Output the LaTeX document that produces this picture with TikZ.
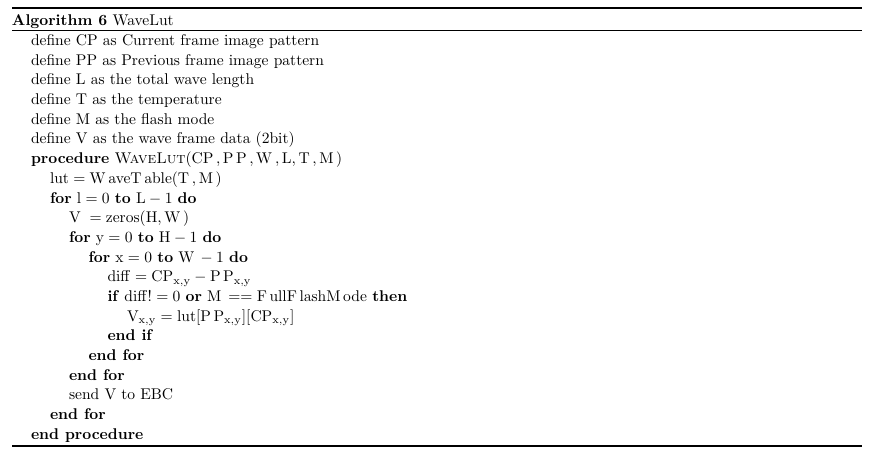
\documentclass[tikz,border=0pt]{standalone}
\begin{document}
\begin{tikzpicture}[x=0.643pt,y=-0.643pt,
  ln/.style={anchor=base west, inner sep=0pt, outer sep=0pt, font=\fontsize{10}{12}\selectfont},
  thickrule/.style={line width=1.2pt},
  thinrule/.style={line width=0.8pt}]
\useasboundingbox[fill=white] (0,0) rectangle (887,460);
\coordinate (tl) at (12,8);
\coordinate (tr) at (862,8);
\coordinate (ml) at (12,30.3);
\coordinate (mr) at (862,30.3);
\coordinate (bl) at (12,445.6);
\coordinate (br) at (862,445.6);
\draw[thickrule] (tl) -- (tr);
\draw[thinrule] (ml) -- (mr);
\draw[thickrule] (bl) -- (br);
\node[ln] (title) at (12,25) {\textbf{Algorithm 6} WaveLut};
\node[ln] (d1) at (31,45.5) {define CP as Current frame image pattern};
\node[ln] (d2) at (31,65.2) {define PP as Previous frame image pattern};
\node[ln] (d3) at (31,84.9) {define L as the total wave length};
\node[ln] (d4) at (31,104.6) {define T as the temperature};
\node[ln] (d5) at (31,124.3) {define M as the flash mode};
\node[ln] (d6) at (31,143.9) {define V as the wave frame data (2bit)};
\node[ln] (proc) at (31,163.6) {\textbf{procedure} \textsc{WaveLut}$(\mathrm{CP}\,,\mathrm{P\,P}\,,\mathrm{W}\,,\mathrm{L},\mathrm{T}\,,\mathrm{M}\,)$};
\node[ln] (lut) at (50,183.3) {$\mathrm{lut}=\mathrm{W\,aveT\,able}(\mathrm{T}\,,\mathrm{M}\,)$};
\node[ln] (forl) at (50,203.0) {\textbf{for} $\mathrm{l}=0$ \textbf{to} $\mathrm{L}-1$ \textbf{do}};
\node[ln] (vz) at (69,222.7) {$\mathrm{V}\;=\mathrm{zeros}(\mathrm{H},\mathrm{W}\,)$};
\node[ln] (fory) at (69,242.4) {\textbf{for} $\mathrm{y}=0$ \textbf{to} $\mathrm{H}-1$ \textbf{do}};
\node[ln] (forx) at (88.5,262.1) {\textbf{for} $\mathrm{x}=0$ \textbf{to} $\mathrm{W}\,-1$ \textbf{do}};
\node[ln] (diff) at (107.5,281.8) {$\mathrm{diff}=\mathrm{CP}_{\mathrm{x,y}}-\mathrm{P\,P}_{\mathrm{x,y}}$};
\node[ln] (if) at (107.5,301.5) {\textbf{if} $\mathrm{diff!}=0$ \textbf{or} $\mathrm{M}\,==\mathrm{F\,ullF\,lashM\,ode}$ \textbf{then}};
\node[ln] (vxy) at (127,321.2) {$\mathrm{V}_{\mathrm{x,y}}=\mathrm{lut}[\mathrm{P\,P}_{\mathrm{x,y}}][\mathrm{CP}_{\mathrm{x,y}}]$};
\node[ln] (endif) at (107.5,340.9) {\textbf{end if}};
\node[ln] (endforx) at (88.5,360.5) {\textbf{end for}};
\node[ln] (endfory) at (69,380.2) {\textbf{end for}};
\node[ln] (send) at (69,399.9) {send V to EBC};
\node[ln] (endforl) at (50,419.6) {\textbf{end for}};
\node[ln] (endproc) at (31,439.3) {\textbf{end procedure}};
\end{tikzpicture}
\end{document}
